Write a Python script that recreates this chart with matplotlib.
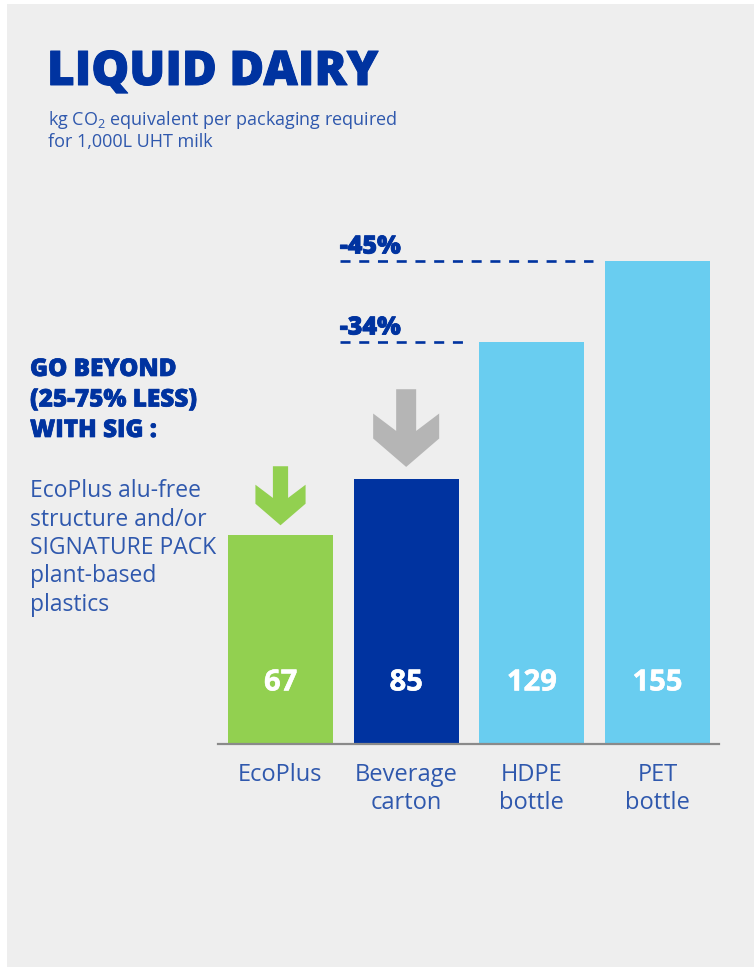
import matplotlib
matplotlib.use("Agg")
import matplotlib.pyplot as plt
import matplotlib.transforms as mtransforms
import matplotlib.patheffects as pe
from matplotlib.patches import Rectangle, Polygon

# ---------------- data ----------------
categories = ["EcoPlus", "Beverage\ncarton", "HDPE\nbottle", "PET\nbottle"]
values = [67, 85, 129, 155]
bar_colors = ["#92d050", "#0033a0", "#69cdf0", "#69cdf0"]
reduction_targets = [2, 3]          # bars compared against the beverage carton
reduction_labels = ["-34%", "-45%"]
title = "LIQUID DAIRY"
subtitle_lines = [r"kg CO$_2$ equivalent per packaging required", "for 1,000L UHT milk"]
side_head = ["GO BEYOND", "(25-75% LESS)", "WITH SIG :"]
side_body = ["EcoPlus alu-free", "structure and/or", "SIGNATURE PACK", "plant-based", "plastics"]

# ---------------- style ----------------
W, H = 754, 971
DPI = 100
DARK = "#0033a0"
MID = "#2f58ad"
BG = "#eeeeee"
FONT = ["Open Sans", "DejaVu Sans"]
plt.rcParams["font.family"] = FONT
plt.rcParams["mathtext.fontset"] = "custom"
plt.rcParams["mathtext.rm"] = "Open Sans"
plt.rcParams["mathtext.default"] = "regular"


def heavy(lw, color):
    return [pe.withStroke(linewidth=lw, foreground=color)]


fig = plt.figure(figsize=(W / DPI, H / DPI), dpi=DPI, facecolor="white")
fig.patches.append(Rectangle((7 / W, 4 / H), 1 - 7 / W, 1 - 8 / H,
                             transform=fig.transFigure, facecolor=BG,
                             edgecolor="none", zorder=-10))


def fx(x):
    return x / W


def fy(y):
    return 1 - y / H


# axes placed in pixel terms
ax_left, ax_right, ax_bottom, ax_top = 218, 719, 744, 220
ax = fig.add_axes([fx(ax_left), fy(ax_bottom), (ax_right - ax_left) / W,
                   (ax_bottom - ax_top) / H])
ax.set_facecolor("none")
step = 125.67
ax.set_xlim((ax_left - 280.5) / step, (ax_right - 280.5) / step)
ax.set_ylim(0, (ax_bottom - ax_top) / 3.115)
for s in ["top", "right", "left"]:
    ax.spines[s].set_visible(False)
ax.spines["bottom"].set_color("#8a8a8a")
ax.spines["bottom"].set_linewidth(1.6)
ax.set_xticks([])
ax.set_yticks([])

bw = 0.836
xs = list(range(len(values)))
ax.bar(xs, values, width=bw, color=bar_colors, zorder=2)

# value labels inside bars
for x, v in zip(xs, values):
    ax.text(x, 19.6, f"{v}", ha="center", va="center", color="white",
            fontsize=21, fontweight="bold", zorder=3,
            path_effects=heavy(0.4, "white"))

# category labels
lab_tr = mtransforms.blended_transform_factory(ax.transData, fig.transFigure)
for x, c in zip(xs, categories):
    for k, line in enumerate(c.split("\n")):
        ax.text(x, fy(781 + 28 * k), line, transform=lab_tr, ha="center",
                va="baseline", fontsize=17, color=MID)

# dashed reduction lines
ref = 1
for t, lab in zip(reduction_targets, reduction_labels):
    x0 = ref - bw / 2 - 0.11
    x1 = t - bw / 2 - 0.095
    ax.plot([x0, x1], [values[t], values[t]], color=DARK, lw=1.9,
            dashes=(3.8, 3.3), solid_capstyle="butt", zorder=3, clip_on=False)
    ax.annotate(lab, (x0, values[t]), xytext=(0, 5.5), textcoords="offset points",
                ha="left", va="baseline", fontsize=18, fontweight="heavy",
                color=DARK, annotation_clip=False,
                path_effects=heavy(0.6, DARK))


# down arrows above the first two bars (shape in pixels, y up, tip at origin)
def arrow(xc, ytop, scale, gap, color):
    shape = [(-10, 77.7), (10, 77.7), (10, 36), (33, 53.4), (33, 28.4), (0, 0),
             (-33, 28.4), (-33, 53.4), (-10, 36)]
    pts = [(px * scale, py * scale + gap) for px, py in shape]
    tr = mtransforms.ScaledTranslation(xc, ytop, ax.transData)
    poly = Polygon(pts, closed=True, facecolor=color, edgecolor="none",
                   transform=mtransforms.IdentityTransform() + tr, zorder=3)
    ax.add_patch(poly)


arrow(xs[0], values[0], 0.76, 10, "#92d050")
arrow(xs[1], values[1], 1.0, 12.3, "#b5b5b5")

# title & subtitle
fig.text(fx(47), fy(85), title, fontsize=34.3, fontweight="heavy", color=DARK,
         va="baseline", ha="left", path_effects=heavy(0.7, DARK))
for k, line in enumerate(subtitle_lines):
    fig.text(fx(48), fy(125 + 22 * k), line, fontsize=13, color=MID,
             va="baseline", ha="left")

# side text
for k, line in enumerate(side_head):
    fig.text(fx(30), fy(376 + 30.5 * k), line, fontsize=17.5, fontweight="heavy",
             color=DARK, va="baseline", ha="left", path_effects=heavy(0.5, DARK))
for k, line in enumerate(side_body):
    fig.text(fx(30), fy(497.3 + 28.3 * k), line, fontsize=16.5, color=MID,
             va="baseline", ha="left")

fig.savefig("out.png", dpi=DPI, facecolor="white")
